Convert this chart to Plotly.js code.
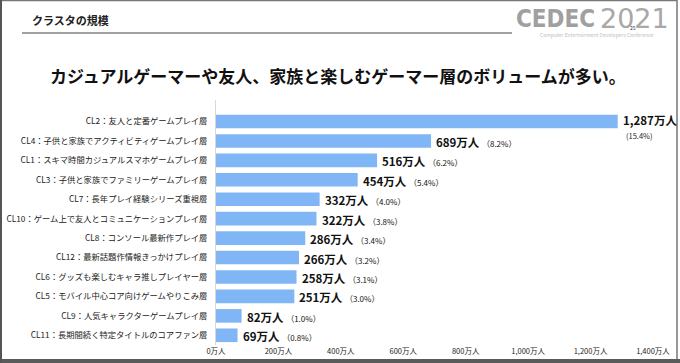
<!DOCTYPE html>
<html><head><meta charset="utf-8">
<script src="https://cdn.plot.ly/plotly-3.0.1.min.js"></script>
<style>html,body{margin:0;padding:0;background:#fff;}#chart{width:680px;height:363px;}</style>
</head><body><div id="chart"></div>
<script>
const categories = [
  "CL2：友人と定番ゲームプレイ層",
  "CL4：子供と家族でアクティビティゲームプレイ層",
  "CL1：スキマ時間カジュアルスマホゲームプレイ層",
  "CL3：子供と家族でファミリーゲームプレイ層",
  "CL7：長年プレイ経験シリーズ重視層",
  "CL10：ゲーム上で友人とコミュニケーションプレイ層",
  "CL8：コンソール最新作プレイ層",
  "CL12：最新話題作情報きっかけプレイ層",
  "CL6：グッズも楽しむキャラ推しプレイヤー層",
  "CL5：モバイル中心コア向けゲームやりこみ層",
  "CL9：人気キャラクターゲームプレイ層",
  "CL11：長期間続く特定タイトルのコアファン層"
];
const values = [1287, 689, 516, 454, 332, 322, 286, 266, 258, 251, 82, 69];
const shares = [15.4, 8.2, 6.2, 5.4, 4.0, 3.8, 3.4, 3.2, 3.1, 3.0, 1.0, 0.8];
const tickValues = [0, 200, 400, 600, 800, 1000, 1200, 1400];
const tickLabels = ["0万人", "200万人", "400万人", "600万人", "800万人", "1,000万人", "1,200万人", "1,400万人"];

const FONT = '"Noto Sans CJK JP", "Noto Sans", sans-serif';
const W = 680, H = 363;
const L = 216, R = 27, T = 100, B = 18;
const pw = W - L - R, ph = H - T - B;
const px = x => (x - L) / pw;
const py = y => (H - B - y) / ph;

const annotations = [];
values.forEach((v, i) => {
  const lbl = v.toLocaleString('en-US') + '万人';
  if (i === 0) {
    annotations.push({x: v, y: categories[i], xref: 'x', yref: 'y', text: '<b>' + lbl + '</b>',
      showarrow: false, xanchor: 'left', xshift: 3, yshift: 2, font: {family: FONT, size: 11.5, color: '#111'}});
    annotations.push({x: v, y: categories[i], xref: 'x', yref: 'y', text: '(' + shares[i].toFixed(1) + '%)',
      showarrow: false, xanchor: 'left', xshift: 6, yshift: -14, font: {family: FONT, size: 7.5, color: '#222'}});
  } else {
    annotations.push({x: v, y: categories[i], xref: 'x', yref: 'y',
      text: '<b>' + lbl + '</b> <span style="font-size:8px">（' + shares[i].toFixed(1) + '%）</span>',
      showarrow: false, xanchor: 'left', xshift: 3, yshift: -1, font: {family: FONT, size: 11.5, color: '#111'}});
  }
});

// slide header
annotations.push({x: px(30), y: py(20), xref: 'paper', yref: 'paper', text: '<b>クラスタの規模</b>', showarrow: false,
  xanchor: 'left', yanchor: 'middle', font: {family: FONT, size: 11, color: '#222'}});
annotations.push({x: px(338), y: py(75), xref: 'paper', yref: 'paper',
  text: '<b>カジュアルゲーマーや友人、家族と楽しむゲーマー層のボリュームが多い。</b>', showarrow: false,
  xanchor: 'center', yanchor: 'middle', font: {family: FONT, size: 17, color: '#111'}});
annotations.push({x: px(514), y: py(19), xref: 'paper', yref: 'paper', text: '<b>CEDEC</b>', showarrow: false,
  xanchor: 'left', yanchor: 'middle', font: {family: '"DejaVu Sans Condensed", "DejaVu Sans", sans-serif', size: 24, color: '#a0a0a0'}});
annotations.push({x: px(598), y: py(18), xref: 'paper', yref: 'paper', text: '2021', showarrow: false,
  xanchor: 'left', yanchor: 'middle', font: {family: '"DejaVu Sans ExtraLight", "DejaVu Sans", sans-serif', size: 27, color: '#a8a8a8'}});
annotations.push({x: px(633), y: py(27), xref: 'paper', yref: 'paper', text: '25', showarrow: false,
  xanchor: 'center', yanchor: 'middle', font: {family: FONT, size: 5, color: '#333'}});
annotations.push({x: px(597), y: py(35), xref: 'paper', yref: 'paper', text: 'Computer Entertainment Developers Conference', showarrow: false,
  xanchor: 'center', yanchor: 'middle', font: {family: FONT, size: 5, color: '#c0c0c0'}});

const shapes = [
  {type: 'line', xref: 'paper', yref: 'paper', x0: px(22), x1: px(512), y0: py(33), y1: py(33), line: {color: '#444', width: 1}},
  {type: 'rect', xref: 'paper', yref: 'paper', x0: px(0.5), x1: px(677), y0: py(0.5), y1: py(360), line: {color: '#777', width: 1.5}},
  {type: 'rect', xref: 'paper', yref: 'paper', x0: px(0), x1: px(680), y0: py(359), y1: py(363), fillcolor: '#5a5a5a', line: {width: 0}},
  {type: 'rect', xref: 'paper', yref: 'paper', x0: px(0), x1: px(2), y0: py(0), y1: py(363), fillcolor: '#555', line: {width: 0}}
];

const trace = {
  type: 'bar', orientation: 'h', x: values, y: categories,
  marker: {color: '#80b6f6'}, hoverinfo: 'none'
};

const layout = {
  width: W, height: H,
  margin: {l: L, r: R, t: T, b: B, pad: 0},
  paper_bgcolor: '#fff', plot_bgcolor: '#fff',
  showlegend: false, bargap: 0.3,
  font: {family: FONT},
  xaxis: {range: [0, 1400], tickvals: tickValues, ticktext: tickLabels, showgrid: false, zeroline: false,
    showline: false, ticks: '', tickfont: {family: FONT, size: 7.5, color: '#222'}, fixedrange: true},
  yaxis: {autorange: 'reversed', showgrid: false, zeroline: false, showline: true, linecolor: '#d8d8d8', linewidth: 1,
    ticks: '', ticklabelstandoff: 6, tickfont: {family: FONT, size: 8.3, color: '#222'}, fixedrange: true},
  annotations: annotations, shapes: shapes
};

Plotly.newPlot('chart', [trace], layout, {displayModeBar: false, staticPlot: true});
</script></body></html>
